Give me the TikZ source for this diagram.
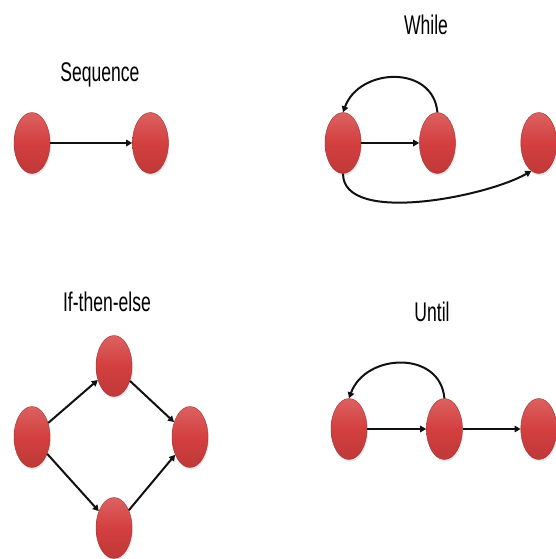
\documentclass[tikz,border=0pt]{standalone}
\usepackage{fontspec}
\setsansfont{Liberation Sans}
\usetikzlibrary{
    arrows.meta,
    positioning,
    shapes.geometric,
    shadows
}
\definecolor{ballred}{HTML}{D43F3F}
\definecolor{balledge}{HTML}{A83030}
\definecolor{arrowblack}{HTML}{111111}

\begin{document}
\begin{tikzpicture}[
    x=1pt, y=1pt,
    font=\sffamily,
    state/.style={
        ellipse,
        minimum width=36pt,
        minimum height=61pt,
        inner sep=0pt,
        draw=balledge,
        thin,
        top color=ballred!82!white,
        bottom color=ballred!90!black,
        middle color=ballred,
        drop shadow={opacity=0.2, shadow xshift=1pt, shadow yshift=-2pt}
    },
    title/.style={
        font=\sffamily\fontsize{27}{32}\selectfont,
        text=black,
        xscale=0.65,
        anchor=base
    },
    arrow/.style={
        -{Triangle[length=6pt,width=6.5pt]},
        line width=2pt,
        draw=arrowblack
    }
]

\useasboundingbox (0,0) rectangle (556,559);

% =====================================================
% Sequence
% =====================================================

\node[title] (seqtitle) at (100,477) {Sequence};

\node[state] (seqstart) at (32,416) {};
\node[state, right=82pt of seqstart] (seqend) {};

% =====================================================
% While
% =====================================================

\node[title] (whiletitle) at (426,524) {While};

\node[state] (whilestart) at (343,416) {};
\node[state, right=58pt of whilestart] (whilebody) {};
\node[state, right=65pt of whilebody] (whileexit) {};

% =====================================================
% If-then-else
% =====================================================

\node[title] (iftitle) at (107,247) {If-then-else};

\node[state] (ifcond) at (32,122) {};
\node[state] (ifthen) at (114,193) {};
\node[state] (ifjoin) at (190,122) {};
\node[state] (ifelse) at (114,31) {};

% =====================================================
% Until
% =====================================================

\node[title] (untiltitle) at (432,237) {Until};

\node[state] (untilstart) at (349,130) {};
\node[state, right=59pt of untilstart] (untilbody) {};
\node[state, right=58pt of untilbody] (untilexit) {};

% =====================================================
% Arrows
% =====================================================

\draw[arrow] (seqstart) -- (seqend);

\draw[arrow] (whilestart) -- (whilebody);
\draw[arrow] (whilebody.north) to[out=95, in=70, looseness=1.3] (whilestart.north);
\draw[arrow] (whilestart.south) to[out=-90, in=-150, looseness=0.7] (whileexit.-105);

\draw[arrow] (ifcond) -- (ifthen);
\draw[arrow] (ifcond) -- (ifelse);
\draw[arrow] (ifthen) -- (ifjoin);
\draw[arrow] (ifelse) -- (ifjoin);

\draw[arrow] (untilstart) -- (untilbody);
\draw[arrow] (untilbody) -- (untilexit);
\draw[arrow] (untilbody.north) to[out=95, in=70, looseness=1.3] (untilstart.north);

\end{tikzpicture}
\end{document}
